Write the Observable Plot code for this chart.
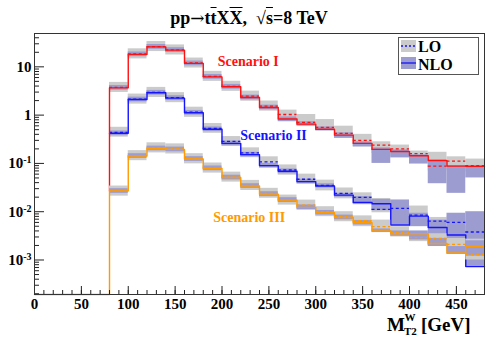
<!DOCTYPE html>
<html>
<head>
<meta charset="utf-8">
<script src="https://cdn.jsdelivr.net/npm/d3@7"></script>
<script src="https://cdn.jsdelivr.net/npm/@observablehq/plot@0.6"></script>
<style>
  body { margin: 0; background: #fff; }
  #wrap { position: relative; width: 498px; height: 338px; }
  #title { position: absolute; left: 0; top: 8px; width: 498px; text-align: center;
           font: bold 18px "Liberation Serif", serif; line-height: 20px; color: #000; }
  .ol { text-decoration: overline; }
  .arr { font-family: "DejaVu Serif", serif; font-weight: normal; font-size: 17px; }
</style>
</head>
<body>
<div id="wrap">
  <div id="title">pp<span class="arr">→</span>t<span class="ol">t</span>X<span class="ol">X</span>,&nbsp; √<span class="ol">s</span>=8 TeV</div>
</div>
<script>
// ---- Data ----
const binLo = [80,100,120,140,160,180,200,220,240,260,280,300,320,340,360,380,400,420,440,460];
const binHi = [100,120,140,160,180,200,220,240,260,280,300,320,340,360,380,400,420,440,460,480];

// Scenario I (red)
const nloI     = [3.67,18.1,25.9,22.2,11.8,6.2,3.86,2.32,1.44,0.83,0.65,0.51,0.385,0.26,0.195,0.177,0.144,0.114,0.088,0.087];
const loI      = [3.75,18.6,26.3,22.4,12.0,6.35,3.95,2.47,1.54,1.03,0.71,0.56,0.42,0.30,0.24,0.20,0.16,0.088,0.112,0.09];
const loLowI   = [2.95,14.6,20.7,17.6,9.45,5.0,3.11,1.94,1.21,0.76,0.62,0.49,0.355,0.22,0.16,0.137,0.117,0.07,0.073,0.067];
const loHighI  = [4.76,23.6,33.4,28.4,15.2,8.06,5.02,3.14,1.96,1.27,1.03,0.81,0.59,0.40,0.28,0.24,0.18,0.17,0.137,0.123];
const nloLowI  = [3.28,16.2,23.1,19.8,10.5,5.54,3.45,2.07,1.29,0.73,0.59,0.47,0.33,0.22,0.10,0.13,0.097,0.038,0.024,0.05];
const nloHighI = [4.11,20.3,29.0,24.9,13.2,6.94,4.32,2.6,1.61,0.92,0.73,0.57,0.43,0.28,0.21,0.19,0.15,0.12,0.09,0.09];

// Scenario II (blue)
const nloII     = [0.42,2.11,2.90,2.25,1.12,0.51,0.26,0.152,0.090,0.069,0.042,0.034,0.022,0.0156,0.0146,0.0053,0.0081,0.0047,0.0033,0.00073];
const loII      = [0.44,2.15,2.95,2.3,1.15,0.53,0.285,0.166,0.108,0.073,0.047,0.035,0.024,0.0198,0.0112,0.0117,0.0085,0.0064,0.0060,0.0038];
const loLowII   = [0.35,1.69,2.32,1.81,0.9,0.42,0.224,0.131,0.085,0.057,0.037,0.027,0.0185,0.0148,0.0095,0.0093,0.0078,0.0049,0.0045,0.0028];
const loHighII  = [0.56,2.73,3.75,2.92,1.46,0.67,0.36,0.21,0.137,0.093,0.06,0.045,0.031,0.0246,0.0188,0.0174,0.0131,0.0076,0.0078,0.005];
const nloLowII  = [0.375,1.88,2.59,2.0,1.0,0.455,0.232,0.136,0.08,0.061,0.038,0.031,0.020,0.014,0.0105,0.0053,0.0049,0.0020,0.0024,0.00072];
const nloHighII = [0.47,2.36,3.25,2.52,1.25,0.57,0.29,0.17,0.1,0.077,0.047,0.038,0.024,0.0205,0.018,0.0174,0.0093,0.0067,0.0093,0.010];

// Scenario III (orange)
const nloIII     = [0.027,0.142,0.204,0.195,0.123,0.079,0.051,0.034,0.0231,0.0174,0.0123,0.0095,0.0076,0.0059,0.0040,0.0035,0.0035,0.0022,0.0014,0.0019];
const loIII      = [0.027,0.145,0.21,0.20,0.125,0.08,0.052,0.035,0.024,0.0174,0.0137,0.0100,0.0079,0.0065,0.0049,0.0037,0.0029,0.0028,0.0021,0.0013];
const loLowIII   = [0.021,0.114,0.165,0.157,0.098,0.063,0.041,0.0275,0.019,0.0137,0.0108,0.0079,0.0062,0.0049,0.0042,0.003,0.0024,0.002,0.0015,0.001];
const loHighIII  = [0.034,0.184,0.267,0.254,0.159,0.102,0.066,0.0445,0.0305,0.0221,0.0174,0.0127,0.01,0.0082,0.0067,0.0049,0.0038,0.0035,0.0028,0.0027];
const nloLowIII  = [0.024,0.127,0.182,0.174,0.11,0.0705,0.0455,0.0304,0.0206,0.0155,0.011,0.0085,0.0068,0.0053,0.0037,0.0031,0.0026,0.0019,0.0013,0.0012];
const nloHighIII = [0.030,0.159,0.228,0.218,0.138,0.0885,0.057,0.038,0.0259,0.0195,0.0138,0.0106,0.0085,0.0066,0.0044,0.004,0.004,0.0028,0.0019,0.0025];

const scenarioNames  = ["Scenario II", "Scenario I", "Scenario III"];
const scenarioColors = ["#1414ff", "#ff1010", "#ff9a00"];
// label anchor points in data units (GeV, value)
const labelX = [255, 228, 229];
const labelY = [0.385, 13.1, 0.0077];

const xTickLabels = [0,50,100,150,200,250,300,350,400,450];
const yTickLabels = [1e-3,1e-2,1e-1,1,10];

// ---- Layout ----
const W = 498, H = 338, mL = 34, mR = 14, mT = 33, mB = 44;
const plotW = W - mL - mR, plotH = H - mT - mB;
const yDomain = [1.93e-4, 49];
const xDomain = [0, 480];
const gray = "#cbcbcb", purple = "#9c9cd0";

function table(nlo, lo, loL, loH, nL, nH) {
  return binLo.map((x1, i) => ({x1, x2: binHi[i], nlo: nlo[i], lo: lo[i], loL: loL[i], loH: loH[i], nL: nL[i], nH: nH[i]}));
}
const nloSeries = [nloII, nloI, nloIII];   // drawing order
// histogram outline; the rising edge at the first bin starts where series drawn later already cover it
function steps(k) {
  const nlo = nloSeries[k];
  const later = nloSeries.slice(k + 1).map(s => s[0]);
  let pts;
  if (later.length === 0) pts = [{x: xDomain[0], y: yDomain[0]}];
  else pts = [{x: binLo[0], y: Math.min(d3.max(later), nlo[0])}];
  binLo.forEach((x, i) => pts.push({x, y: nlo[i]}));
  pts.push({x: binHi[binHi.length - 1], y: nlo[nlo.length - 1]});
  return pts;
}
const series = [
  table(nloII, loII, loLowII, loHighII, nloLowII, nloHighII),
  table(nloI, loI, loLowI, loHighI, nloLowI, nloHighI),
  table(nloIII, loIII, loLowIII, loHighIII, nloLowIII, nloHighIII)
];

const marks = [];
series.forEach((t, k) => {
  const c = scenarioColors[k];
  marks.push(Plot.rect(t, {x1: "x1", x2: "x2", y1: "loL", y2: "loH", fill: gray}));
  marks.push(Plot.rect(t, {x1: "x1", x2: "x2", y1: "nL", y2: "nH", fill: purple}));
  marks.push(Plot.ruleY(t, {y: "lo", x1: "x1", x2: "x2", stroke: c, strokeWidth: 1.3, strokeDasharray: "3,2.5"}));
  marks.push(Plot.line(steps(k), {x: "x", y: "y", curve: "step-after", stroke: c, strokeWidth: 1.4}));
});

// minor ticks
const yMinor = [];
for (let e = -4; e <= 1; e++) for (let m = 2; m <= 9; m++) {
  const v = m * Math.pow(10, e);
  if (v > yDomain[0] && v < yDomain[1]) yMinor.push(v);
}
const xMinor = d3.range(0, 481, 10);

marks.push(
  Plot.tickY(yMinor, {y: d => d, insetRight: plotW - 5, stroke: "#222"}),
  Plot.tickY(yTickLabels, {y: d => d, insetRight: plotW - 10, stroke: "#222"}),
  Plot.tickX(xMinor, {x: d => d, insetTop: plotH - 4, stroke: "#222"}),
  Plot.tickX(xTickLabels, {x: d => d, insetTop: plotH - 8, stroke: "#222"}),
  Plot.frame({stroke: "#333"}),
  Plot.axisY(yTickLabels, {tickSize: 0, tickPadding: 3, fontSize: 15,
    tickFormat: v => v >= 1 ? String(v) : "10^" + Math.round(Math.log10(v))}),
  Plot.axisX(xTickLabels, {tickSize: 0, tickPadding: 4, fontSize: 15, tickFormat: d => String(d)}),
  Plot.text(scenarioNames, {x: (d, i) => labelX[i], y: (d, i) => labelY[i], text: d => d,
    fill: (d, i) => scenarioColors[i], fontSize: 14, fontWeight: "bold"})
);

const plot = Plot.plot({
  width: W, height: H,
  marginLeft: mL, marginRight: mR, marginTop: mT, marginBottom: mB,
  x: {domain: xDomain},
  y: {type: "log", domain: yDomain},
  style: {fontFamily: "'Liberation Serif', serif", fontWeight: "bold", fontSize: "15px", color: "#000", background: "transparent"},
  marks
});
document.getElementById("wrap").prepend(plot);

const svg = d3.select(plot);
// superscript exponents on y tick labels
svg.selectAll("text").each(function () {
  const t = this.textContent;
  if (t.startsWith("10^")) {
    const e = t.slice(3);
    const s = d3.select(this);
    s.text("10");
    s.append("tspan").attr("dy", "-0.5em").attr("font-size", "10px").text(e);
  }
});

// x-axis title  M_T2^W [GeV]
const xt = svg.append("g").attr("font-family", "'Liberation Serif', serif").attr("font-weight", "bold")
  .attr("fill", "#000").attr("text-anchor", "start");
xt.append("text").attr("x", 387).attr("y", 331).attr("font-size", "19px").text("M");
xt.append("text").attr("x", 404.5).attr("y", 321).attr("font-size", "11px").text("W");
xt.append("text").attr("x", 404).attr("y", 335).attr("font-size", "11px").text("T2");
xt.append("text").attr("x", 421).attr("y", 331).attr("font-size", "19px").text("[GeV]");

// legend
const lg = svg.append("g").attr("font-family", "'Liberation Serif', serif").attr("font-weight", "bold").attr("text-anchor", "start");
lg.append("rect").attr("x", 398.5).attr("y", 37.5).attr("width", 80).attr("height", 37).attr("fill", "#fff").attr("stroke", "#555");
lg.append("rect").attr("x", 401).attr("y", 40).attr("width", 15).attr("height", 12).attr("fill", gray);
lg.append("line").attr("x1", 401).attr("x2", 416).attr("y1", 46).attr("y2", 46).attr("stroke", "#1414ff").attr("stroke-width", 1.3).attr("stroke-dasharray", "2,2");
lg.append("text").attr("x", 418).attr("y", 51.5).attr("font-size", "16px").text("LO");
lg.append("rect").attr("x", 401).attr("y", 57).attr("width", 15).attr("height", 12).attr("fill", purple);
lg.append("line").attr("x1", 401).attr("x2", 416).attr("y1", 63).attr("y2", 63).attr("stroke", "#1414ff").attr("stroke-width", 1.3);
lg.append("text").attr("x", 418).attr("y", 69.5).attr("font-size", "16px").text("NLO");
</script>
</body>
</html>
